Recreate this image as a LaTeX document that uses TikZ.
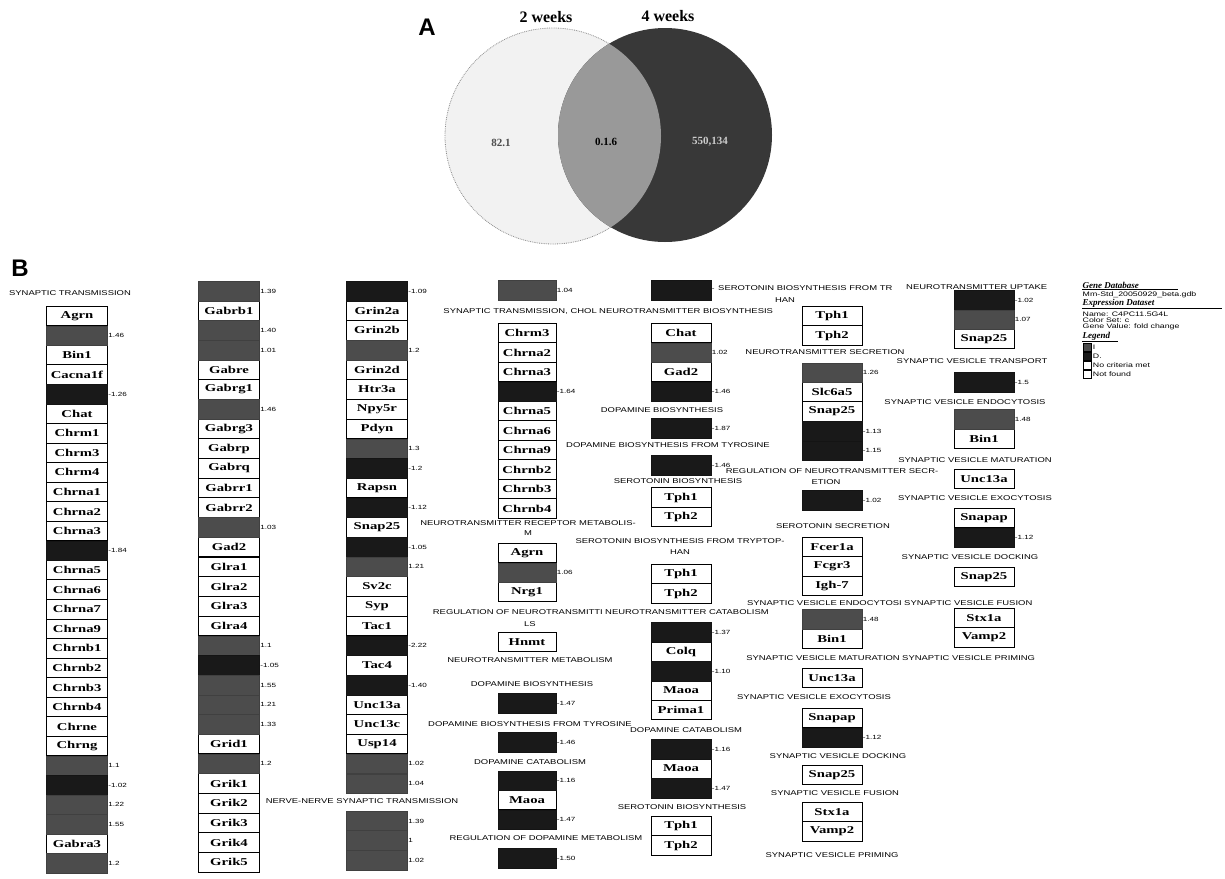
\documentclass[tikz,border=0pt]{standalone}
\usepackage{fontspec}
\setmainfont{Liberation Serif}
\newfontfamily\catfont[FakeStretch=1.35]{Liberation Sans}
\newfontfamily\genefont[FakeStretch=1.4]{Liberation Serif}
\newfontfamily\headfont{Liberation Sans}
\usetikzlibrary{positioning}

\begin{document}
\begin{tikzpicture}[x=1pt, y=-1pt,
  gene/.style={draw, line width=0.9pt, fill=white, minimum width=61pt, minimum height=19.6pt, inner sep=0pt, font=\genefont\bfseries\fontsize{10.5}{10.5}\selectfont},
  up/.style={draw=black!75, fill=black!70, minimum width=61pt, minimum height=19.6pt, inner sep=0pt},
  down/.style={draw=black!92, fill=black!90, minimum width=61pt, minimum height=19.6pt, inner sep=0pt},
  val/.style={font=\catfont\fontsize{6}{6}\selectfont, inner sep=0.5pt},
  cat/.style={font=\catfont\fontsize{7}{7}\selectfont, inner sep=0pt},
  panel/.style={font=\headfont\bfseries\fontsize{24}{24}\selectfont},
  wk/.style={font=\bfseries\fontsize{16}{16}\selectfont},
  vnum/.style={font=\bfseries\fontsize{11}{11}\selectfont},
  legh/.style={font=\bfseries\itshape\fontsize{9}{9}\selectfont, inner sep=0.5pt},
  legs/.style={font=\catfont\fontsize{6.5}{6.5}\selectfont, inner sep=0.5pt},
  key/.style={draw, minimum width=8pt, minimum height=8.5pt, inner sep=0pt}
]
\fill[white] (0,0) rectangle (1225,878);
\useasboundingbox (0,0) rectangle (1225,878);

% panel A
\fill[black!5] (553,136) circle (108pt);
\draw[black!45, densely dotted, line width=0.8pt] (553,136) circle (108pt);
\fill[black!78] (665,135) circle (107pt);
\begin{scope}
  \clip (553,136) circle (108pt);
  \fill[black!40] (665,135) circle (107pt);
\end{scope}
\node[panel] (pa) at (427,27) {A};
\node[wk] (w2) at (546,17) {2 weeks};
\node[wk] (w4) at (668,16) {4 weeks};
\node[vnum, black!70] (n2) at (501,143) {82.1};
\node[vnum] (n24) at (606,142) {0.1.6};
\node[vnum, white!80!black] (n4) at (710,142) {550,134};

% panel B
\node[panel] (pb) at (20,268) {B};

% column 1
\foreach \r/\g in {0/Agrn,2/Bin1,3/Cacna1f,5/Chat,6/Chrm1,7/Chrm3,8/Chrm4,9/Chrna1,10/Chrna2,11/Chrna3,
    13/Chrna5,14/Chrna6,15/Chrna7,16/Chrna9,17/Chrnb1,18/Chrnb2,19/Chrnb3,20/Chrnb4,21/Chrne,22/Chrng,27/Gabra3}
  \node[gene] (c1-\r) at (77,316+\r*19.55) {\g};
\foreach \r/\s/\v in {1/up/1.46,4/down/-1.26,12/down/-1.84,23/up/1.1,24/down/-1.02,25/up/1.22,26/up/1.55,28/up/1.2}
  \node[\s, label={[val]right:\v}] (c1-\r) at (77,316+\r*19.55) {};

% column 2
\foreach \r/\g in {1/Gabrb1,4/Gabre,5/Gabrg1,7/Gabrg3,8/Gabrp,9/Gabrq,10/Gabrr1,11/Gabrr2,13/Gad2,
    14/Glra1,15/Glra2,16/Glra3,17/Glra4,23/Grid1,25/Grik1,26/Grik2,27/Grik3,28/Grik4,29/Grik5}
  \node[gene] (c2-\r) at (229,291+\r*19.7) {\g};
\foreach \r/\s/\v in {0/up/1.39,2/up/1.40,3/up/1.01,6/up/1.46,12/up/1.03,18/up/1.1,19/down/-1.05,
    20/up/1.55,21/up/1.21,22/up/1.33,24/up/1.2}
  \node[\s, label={[val]right:\v}] (c2-\r) at (229,291+\r*19.7) {};

% column 3
\foreach \r/\g in {1/Grin2a,2/Grin2b,4/Grin2d,5/Htr3a,6/Npy5r,7/Pdyn,10/Rapsn,12/Snap25,15/Sv2c,
    16/Syp,17/Tac1,19/Tac4,21/Unc13a,22/Unc13c,23/Usp14}
  \node[gene] (c3-\r) at (377,291+\r*19.7) {\g};
\foreach \r/\s/\v in {0/down/-1.09,3/up/1.2,8/up/1.3,9/down/-1.2,11/down/-1.12,13/down/-1.05,14/up/1.21,
    18/down/-2.22,20/down/-1.40,24/up/1.02,25/up/1.04}
  \node[\s, label={[val]right:\v}] (c3-\r) at (377,291+\r*19.7) {};
\foreach \y/\s/\v [count=\k] in {821/up/1.39,840/up/1,860/up/1.02}
  \node[\s, label={[val]right:\v}] (c3-x\k) at (377,\y) {};

% column 4
\foreach \y/\g [count=\k] in {333/Chrm3,352.5/Chrna2,372/Chrna3,411/Chrna5,430.5/Chrna6,450/Chrna9,
    469.5/Chrnb2,489/Chrnb3,508.5/Chrnb4,553/Agrn,592/Nrg1,642/Hnmt,800/Maoa}
  \node[gene, minimum width=58pt] (c4-\k) at (527,\y) {\g};
\foreach \y/\s/\v [count=\k] in {290/up/1.04,391.5/down/-1.64,572.5/up/1.06,703/down/-1.47,742/down/-1.46,
    780.5/down/-1.16,819.5/down/-1.47,858/down/-1.50}
  \node[\s, minimum width=58pt, label={[val]right:\v}] (c4-d\k) at (527,\y) {};

% column 5
\foreach \y/\g [count=\k] in {333/Chat,372/Gad2,497.5/Tph1,517/Tph2,574/Tph1,593.5/Tph2,651.5/Colq,
    690.5/Maoa,710/Prima1,768.5/Maoa,826/Tph1,845.5/Tph2}
  \node[gene, minimum width=60pt] (c5-\k) at (681,\y) {\g};
\foreach \y/\s/\v [count=\k] in {290/down/-,352.5/up/1.02,391.5/down/-1.46,428/down/-1.87,465/down/-1.46,
    632/down/-1.37,671/down/-1.10,749/down/-1.16,788/down/-1.47}
  \node[\s, minimum width=60pt, label={[val]right:\v}] (c5-d\k) at (681,\y) {};

% column 6
\foreach \y/\g [count=\k] in {316/Tph1,335.5/Tph2,392/Slc6a5,411.5/Snap25,547/Fcer1a,566.5/Fcgr3,586/Igh-7,
    638.5/Bin1,678/Unc13a,718/Snapap,775/Snap25,812/Stx1a,831.5/Vamp2}
  \node[gene, minimum width=60pt] (c6-\k) at (832,\y) {\g};
\foreach \y/\s/\v [count=\k] in {372.5/up/1.26,431/down/-1.13,450.5/down/-1.15,500/down/-1.02,
    619/up/1.48,737.5/down/-1.12}
  \node[\s, minimum width=60pt, label={[val]right:\v}] (c6-d\k) at (832,\y) {};

% column 7
\foreach \y/\g [count=\k] in {339/Snap25,438.5/Bin1,479/Unc13a,518/Snapap,577/Snap25,618/Stx1a,637.5/Vamp2}
  \node[gene, minimum width=60pt] (c7-\k) at (984,\y) {\g};
\foreach \y/\s/\v [count=\k] in {300/down/-1.02,319.5/up/1.07,382/down/-1.5,419/up/1.48,537.5/down/-1.12}
  \node[\s, minimum width=60pt, label={[val]right:\v}] (c7-d\k) at (984,\y) {};

% pathway titles
\foreach \x/\y/\t [count=\k] in {70/293/SYNAPTIC TRANSMISSION,
    528/523/NEUROTRANSMITTER RECEPTOR METABOLIS-, 528/533/M, 530/624/LS,
    530/660/NEUROTRANSMITTER METABOLISM, 532/684/DOPAMINE BIOSYNTHESIS,
    530/724/DOPAMINE BIOSYNTHESIS FROM TYROSINE, 530/762/DOPAMINE CATABOLISM,
    546/838/REGULATION OF DOPAMINE METABOLISM, 362/801/NERVE-NERVE SYNAPTIC TRANSMISSION,
    785/300/HAN, 662/410/DOPAMINE BIOSYNTHESIS, 668/445/DOPAMINE BIOSYNTHESIS FROM TYROSINE,
    832/471/REGULATION OF NEUROTRANSMITTER SECR-, 826/482/ETION, 678/481/SEROTONIN BIOSYNTHESIS,
    680/541/SEROTONIN BIOSYNTHESIS FROM TRYPTOP-, 680/552/HAN, 686/730/DOPAMINE CATABOLISM,
    682/807/SEROTONIN BIOSYNTHESIS, 825/352/NEUROTRANSMITTER SECRETION, 833/526/SEROTONIN SECRETION,
    814/697/SYNAPTIC VESICLE EXOCYTOSIS, 838/756/SYNAPTIC VESICLE DOCKING,
    835/793/SYNAPTIC VESICLE FUSION, 832/855/SYNAPTIC VESICLE PRIMING,
    972/361/SYNAPTIC VESICLE TRANSPORT, 965/402/SYNAPTIC VESICLE ENDOCYTOSIS,
    975/460/SYNAPTIC VESICLE MATURATION, 975/498/SYNAPTIC VESICLE EXOCYTOSIS,
    970/557/SYNAPTIC VESICLE DOCKING}
  \node[cat] (t\k) at (\x,\y) {\t};
\node[cat, anchor=east] (ta1) at (597,311) {SYNAPTIC TRANSMISSION, CHOL};
\node[cat, anchor=west] (ta2) at (599,311) {NEUROTRANSMITTER BIOSYNTHESIS};
\node[cat, anchor=east] (tb1) at (603,612) {REGULATION OF NEUROTRANSMITTI};
\node[cat, anchor=west] (tb2) at (605,612) {NEUROTRANSMITTER CATABOLISM};
\node[cat, anchor=west] (tc1) at (718,288) {SEROTONIN BIOSYNTHESIS FROM TR};
\node[cat, anchor=west] (tc2) at (906,287) {NEUROTRANSMITTER UPTAKE};
\node[cat, anchor=east] (td1) at (902,603) {SYNAPTIC VESICLE ENDOCYTOSI};
\node[cat, anchor=west] (td2) at (904,603) {SYNAPTIC VESICLE FUSION};
\node[cat, anchor=east] (te1) at (900,658) {SYNAPTIC VESICLE MATURATION};
\node[cat, anchor=west] (te2) at (902,658) {SYNAPTIC VESICLE PRIMING};

% legend
\node[legh, anchor=south west] (gdb) at (1082,289) {Gene Database};
\draw[line width=0.7pt] (gdb.south west) -- ++(96,0);
\node[legs, anchor=west] (gfile) at (1082,295) {Mm-Std\_20050929\_beta.gdb};
\node[legh, anchor=south west] (eds) at (1082,308.5) {Expression Dataset};
\draw[line width=0.7pt] (eds.south west) -- ++(140,0);
\node[legs, anchor=west] (ename) at (1082,314) {Name: C4PC11.5G4L};
\node[legs, anchor=west] (eset) at (1082,320.5) {Color Set: c};
\node[legs, anchor=west] (egv) at (1082,327) {Gene Value: fold change};
\node[legh, anchor=south west] (leg) at (1082,341) {Legend};
\draw[line width=0.7pt] (leg.south west) -- ++(36,0);
\node[key, fill=black!70] (kup) at (1087,347) {};
\node[key, fill=black!90] (kdn) at (1087,356) {};
\node[key] (kno) at (1087,365) {};
\node[key] (knf) at (1087,374) {};
\node[legs, right=1pt of kup] (lup) {I};
\node[legs, right=1pt of kdn] (ldn) {D.};
\node[legs, right=1pt of kno] (lno) {No criteria met};
\node[legs, right=1pt of knf] (lnf) {Not found};
\end{tikzpicture}
\end{document}
